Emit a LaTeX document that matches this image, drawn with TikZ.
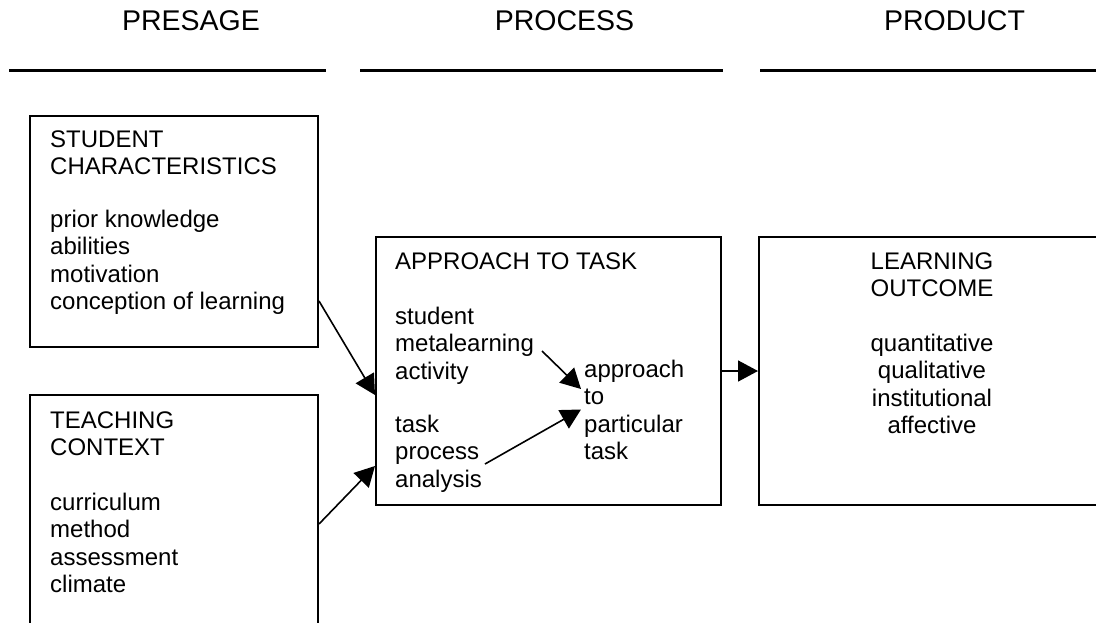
\documentclass[tikz,border=0pt]{standalone}
\usepackage{fontspec}
\setmainfont{Liberation Sans}
\usetikzlibrary{arrows.meta}
\tikzset{
  box/.style={draw, line width=2pt, anchor=north west, inner sep=0pt},
  body/.style={font=\fontsize{24pt}{27.5pt}\selectfont, inner sep=0pt, align=left, anchor=base west},
  bodyc/.style={font=\fontsize{24pt}{27.5pt}\selectfont, inner sep=0pt, align=center, anchor=base},
  ttl/.style={font=\fontsize{28.5pt}{34pt}\selectfont, inner sep=0pt, anchor=base},
  rulefill/.style={line width=2.8pt},
  arr/.style={line width=1.6pt, -{Triangle[length=20pt,width=21pt]}},
}
\begin{document}
\begin{tikzpicture}[x=1pt,y=-1pt]
\useasboundingbox (0,0) rectangle (1096,622);
\clip (0,0) rectangle (1096,622);
% column titles
\node[ttl] (tpre) at (191,30) {PRESAGE};
\node[ttl] (tpro) at (564.5,30) {PROCESS};
\node[ttl] (tprd) at (954.5,30) {PRODUCT};
\draw[rulefill] (9,70.5) -- (326,70.5);
\draw[rulefill] (360,70.5) -- (723,70.5);
\draw[rulefill] (760,70.5) -- (1100,70.5);
% boxes
\node[box, minimum width=288pt, minimum height=231pt] (sc) at (29,115) {};
\node[box, minimum width=288pt, minimum height=258pt] (tc) at (29,394) {};
\node[box, minimum width=345pt, minimum height=268pt] (at) at (375,236) {};
\node[box, minimum width=360pt, minimum height=268pt] (lo) at (758,236) {};
% texts (multi-line nodes: base = baseline of last line)
\node[body] (sct) at (50,309.5) {STUDENT\\CHARACTERISTICS\\[25pt]prior knowledge\\abilities\\motivation\\conception of learning};
\node[body] (tct) at (50,592.5) {TEACHING\\CONTEXT\\[27pt]curriculum\\method\\assessment\\climate};
\node[body] (att) at (395,269) {APPROACH TO TASK};
\node[body] (sma) at (395,379) {student\\metalearning\\activity};
\node[body] (tpa) at (395,487) {task\\process\\analysis};
\node[body] (apt) at (584,459.5) {approach\\to\\particular\\task};
\node[bodyc] (lot) at (932,433.5) {LEARNING\\OUTCOME\\[27pt]quantitative\\qualitative\\institutional\\affective};
% connectors
\coordinate (mlo) at (542,351);
\coordinate (ap1) at (581,389);
\coordinate (tpo) at (485,464);
\coordinate (ap2) at (581,409.5);
\draw[arr] ([yshift=-69.5pt]sc.east) -- ([yshift=-24pt]at.west);
\draw[arr] (tc.east) -- ([yshift=-95pt]at.west);
\draw[arr] (mlo) -- (ap1);
\draw[arr] (tpo) -- (ap2);
\draw[arr] (at.east) -- (lo.west);
\end{tikzpicture}
\end{document}
